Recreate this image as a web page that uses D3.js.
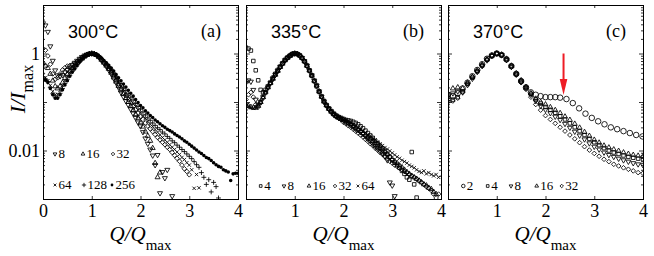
<!DOCTYPE html>
<html>
<head>
<meta charset="utf-8">
<script src="https://cdn.jsdelivr.net/npm/d3@7"></script>
<style>
  body { margin: 0; background: #fff; }
</style>
</head>
<body>
<div id="chart"></div>
<script>
// ****************************************************
// data (I/Imax against Q/Qmax)
var qFine = [0,0.05,0.1,0.15,0.2,0.25,0.3,0.35,0.4,0.45,0.5,0.55,0.6,0.65,0.7,0.75,0.8,0.85,0.9,0.95,
  1,1.05,1.1,1.15,1.2,1.25,1.3,1.35,1.4,1.45,1.5,1.55,1.6,1.65,1.7,1.75,1.8,1.85,1.9,1.95,
  2,2.05,2.1,2.15,2.2,2.25,2.3,2.35,2.4,2.45,2.5,2.55,2.6,2.65,2.7,2.75,2.8,2.85,2.9,2.95,
  3,3.05,3.1,3.15,3.2,3.25,3.3,3.35,3.4,3.45,3.5,3.55,3.6,3.65,3.7,3.75,3.8,3.85,3.9,3.95,4];
var qCoarse = [0,0.1,0.2,0.3,0.4,0.5,0.6,0.7,0.8,0.9,1,1.1,1.2,1.3,1.4,1.5,1.6,1.7,1.8,1.9,
  2,2.1,2.2,2.3,2.4,2.5,2.6,2.7,2.8,2.9,3,3.1,3.2,3.3,3.4,3.5,3.6,3.7,3.8,3.9,4];
var qCirc = [0,0.1,0.2,0.3,0.4,0.5,0.6,0.7,0.8,0.9,1,1.1,1.2,1.3,1.4,1.5,1.6,1.7,1.8,1.9,
  2,2.1,2.2,2.3,2.43,2.56,2.69,2.82,2.95,3.08,3.21,3.34,3.47,3.6,3.73,3.86,3.99];

// 300 C
var a8 = [4.2,3.8,2.8,1.41,0.71,0.45,0.355,0.34,0.36,0.41,0.46,0.51,0.575,0.645,0.71,0.78,0.85,0.91,0.955,0.99,
  1,0.98,0.92,0.83,0.72,0.63,0.54,0.457,0.38,0.31,0.25,0.2,0.158,0.129,0.105,0.087,0.071,0.058,0.047,0.038,
  0.0316,0.024,0.0178,0.0138,0.0105,0.0079,0.005,0.0081,0.00132,0.0036,0.0027,0.004,null,0.00115];
var a16 = [0.63,0.56,0.5,0.38,0.275,0.21,0.19,0.21,0.25,0.31,0.37,0.44,0.5,0.575,0.645,0.72,0.79,0.87,0.93,0.98,
  1,0.98,0.93,0.84,0.74,0.645,0.56,0.48,0.4,0.32,0.263,0.214,0.174,0.145,0.12,0.1,0.083,0.068,0.056,0.047,
  0.038,0.031,0.0245,0.02,0.0158,0.0112,0.0055,0.0028,0.0035];
var a32 = [1.26,1.17,0.89,0.6,0.38,0.295,0.316,0.38,0.457,0.51,0.55,0.56,0.59,0.63,0.69,0.76,0.83,0.89,0.955,0.99,
  1,0.98,0.93,0.85,0.76,0.66,0.575,0.49,0.417,0.347,0.282,0.234,0.19,0.158,0.135,0.112,0.095,0.081,0.069,0.059,
  0.05,0.0437,0.037,0.032,0.028,0.0245,0.0214,0.0186,0.0166,0.0148,0.0132,0.0117,0.0105,0.0091,0.0079,0.0069,0.006,0.005,0.0042,0.0037,
  0.00316];
var a64 = [0.355,0.316,0.275,0.22,0.166,0.141,0.145,0.174,0.22,0.275,0.34,0.4,0.47,0.54,0.62,0.69,0.78,0.85,0.92,0.98,
  1,0.98,0.93,0.86,0.78,0.68,0.59,0.51,0.447,0.37,0.31,0.257,0.214,0.182,0.151,0.129,0.11,0.093,0.081,0.069,
  0.06,0.052,0.046,0.04,0.035,0.031,0.027,0.024,0.021,0.0186,0.0166,0.0148,0.0132,0.0117,0.0105,0.0093,0.0083,0.0072,0.0065,0.0056,
  0.005,0.004,0.00166,0.0032,0.0017];
var a128 = [0.316,0.3,0.263,0.2,0.148,0.126,0.126,0.151,0.19,0.24,0.295,0.355,0.427,0.5,0.59,0.68,0.76,0.85,0.91,0.98,
  1,0.98,0.93,0.87,0.79,0.69,0.62,0.54,0.47,0.4,0.34,0.282,0.24,0.204,0.174,0.148,0.126,0.11,0.093,0.081,
  0.071,0.062,0.054,0.047,0.042,0.037,0.033,0.0295,0.027,0.024,0.022,0.0195,0.0178,0.0158,0.0145,0.0129,0.0117,0.0105,0.0095,0.0085,
  0.0076,0.0068,0.0059,0.0051,0.0045,0.0035,0.0028,0.002,0.0025,0.0014,0.0022,0.0018,0.00105];
var a256 = [0.282,0.282,0.251,0.19,0.141,0.12,0.12,0.141,0.178,0.224,0.275,0.34,0.41,0.48,0.56,0.66,0.76,0.85,0.91,0.98,
  1,0.98,0.94,0.88,0.81,0.72,0.645,0.57,0.5,0.437,0.37,0.316,0.275,0.234,0.204,0.174,0.151,0.132,0.112,0.098,
  0.085,0.076,0.066,0.059,0.0525,0.048,0.0427,0.039,0.0355,0.0324,0.03,0.0275,0.0257,0.024,0.022,0.0204,0.019,0.0174,0.0158,0.0148,
  0.0135,0.0123,0.0112,0.0102,0.0093,0.0087,0.0079,0.0072,0.0068,0.0062,0.0056,0.0051,0.0047,0.0045,0.004,0.0038,0.0036,0.0024,0.0033,0.0034,
  0.0034];

// 335 C
var b4 = [1.32,1.26,1.15,0.7,0.45,0.28,0.178,0.158,0.178,0.21,0.25,0.316,0.38,0.457,0.537,0.63,0.74,0.83,0.91,0.98,
  1,0.98,0.91,0.81,0.69,0.56,0.447,0.347,0.27,0.21,0.162,0.129,0.105,0.087,0.074,0.065,0.0575,0.0525,0.049,0.047,
  0.0447,0.0427,0.0417,0.0407,0.039,0.037,0.0347,0.0316,0.0288,0.0257,0.0229,0.0204,0.0182,0.0158,0.0141,0.0126,0.011,0.0098,0.0085,0.0074,
  0.0063,0.0056,0.005,0.0044,0.0038,0.0033,0.0028,0.0025,0.0093,0.002,0.00107];
var b8 = [0.25,0.28,0.263,0.178,0.112,0.089,0.1,0.126,0.158,0.2,0.245,0.3,0.363,0.437,0.525,0.617,0.724,0.81,0.89,0.966,
  1,0.98,0.91,0.81,0.69,0.56,0.447,0.355,0.275,0.219,0.166,0.129,0.102,0.085,0.072,0.063,0.056,0.051,0.048,0.0447,
  0.0417,0.039,0.0363,0.0339,0.0309,0.0282,0.0263,0.024,0.0219,0.0195,0.0174,0.0155,0.0138,0.0123,0.011,0.0098,0.0087,0.0076,0.0063,0.0022,
  0.0019,0.00115];
var b16 = [0.089,0.083,0.079,0.076,0.076,0.083,0.1,0.126,0.158,0.2,0.245,0.3,0.363,0.437,0.525,0.617,0.724,0.81,0.89,0.966,
  1,0.98,0.91,0.81,0.69,0.56,0.447,0.355,0.275,0.219,0.166,0.129,0.102,0.085,0.072,0.063,0.056,0.051,0.048,0.0447,
  0.0427,0.04,0.037,0.0347,0.0316,0.0295,0.0269,0.0251,0.0229,0.0209,0.019,0.0174,0.0158,0.0141,0.0129,0.0115,0.0105,0.0093,0.0083,0.0074,
  0.0066,0.006,0.0055,0.0049,0.0045,0.004,0.0036,0.0033,0.003,0.0028,0.0026,0.0024,0.0022,0.002,0.0019,0.0017,0.0016,0.0014,0.00126];
var b32 = [0.112,0.141,0.158,0.126,0.089,0.079,0.095,0.12,0.155,0.195,0.24,0.295,0.355,0.427,0.513,0.617,0.708,0.81,0.89,0.966,
  1,0.98,0.9,0.8,0.68,0.55,0.437,0.347,0.27,0.214,0.162,0.126,0.1,0.083,0.07,0.061,0.054,0.049,0.046,0.043,
  0.038,0.0355,0.0324,0.0302,0.0275,0.0251,0.0229,0.0209,0.019,0.017,0.0155,0.0138,0.0126,0.0112,0.0102,0.0091,0.0083,0.0074,0.0068,0.006,
  0.0055,0.005,0.0047,0.0043,0.004,0.0037,0.0035,0.0032,0.003,0.0028,0.0026,0.0024,0.0022,0.002,0.0018,0.00166,0.0015,0.00126,0.00105,0.00126];
var b64 = [0.085,0.08,0.076,0.074,0.076,0.087,0.105,0.132,0.166,0.209,0.257,0.31,0.372,0.447,0.537,0.631,0.73,0.82,0.9,0.97,
  1,0.98,0.92,0.82,0.7,0.575,0.46,0.363,0.282,0.224,0.17,0.132,0.105,0.087,0.074,0.065,0.058,0.053,0.049,0.046,
  0.0437,0.041,0.039,0.0363,0.0339,0.0316,0.0295,0.0269,0.0251,0.0234,0.0214,0.02,0.0182,0.0166,0.0151,0.0138,0.0126,0.0115,0.0107,0.0098,
  0.0089,0.0081,0.0074,0.0069,0.0063,0.0059,0.0055,0.005,0.0047,0.0044,0.004,0.0037,0.0035,0.0038,0.0033,0.0035,0.0032,0.003,0.0032,0.0028];

// 370 C
var c2 = [0.141,0.132,0.151,0.19,0.25,0.34,0.457,0.6,0.78,0.91,1,0.93,0.76,0.55,0.38,0.27,0.2,0.158,0.141,0.132,
  0.126,0.126,0.126,0.123,0.115,0.095,0.074,0.0575,0.047,0.04,0.0347,0.03,0.0275,0.0251,0.0229,0.0209,0.0195];
var c4 = [0.141,0.112,0.126,0.166,0.234,0.316,0.427,0.562,0.741,0.891,1,0.933,0.759,0.55,0.38,0.269,0.2,0.148,0.112,0.093,
  0.079,0.069,0.06,0.051,0.0437,0.0363,0.0302,0.0251,0.0209,0.0174,0.0148,0.0129,0.0112,0.01,0.0091,0.0085,0.0079,0.0074,0.0071,0.0068,0.0066];
var c8 = [0.1,0.151,0.166,0.158,0.224,0.302,0.417,0.55,0.724,0.891,1,0.93,0.74,0.537,0.372,0.263,0.195,0.141,0.105,0.083,
  0.069,0.059,0.05,0.0427,0.0355,0.0295,0.0245,0.0204,0.017,0.0141,0.012,0.0105,0.0091,0.0081,0.0074,0.0068,0.0063,0.0059,0.0055,0.0052,0.005];
var c16 = [0.126,0.19,0.2,0.19,0.251,0.331,0.447,0.589,0.759,0.912,1,0.95,0.78,0.56,0.39,0.28,0.204,0.151,0.117,0.1,
  0.089,0.078,0.068,0.059,0.05,0.0427,0.0355,0.0295,0.024,0.02,0.0166,0.0145,0.0126,0.0115,0.0105,0.0098,0.0091,0.0085,0.0081,0.0078,0.0076];
var c32 = [0.112,0.105,0.12,0.158,0.24,0.331,0.437,0.575,0.759,0.912,1,0.92,0.72,0.52,0.36,0.25,0.182,0.126,0.089,0.068,
  0.0525,0.0437,0.0363,0.0302,0.0251,0.0209,0.0174,0.0145,0.012,0.0102,0.0087,0.0076,0.0066,0.0059,0.0052,0.0048,0.0044,0.0041,0.0038,0.0035,0.0034];

var xTicks = [0, 1, 2, 3, 4];
var yMajor = [0.001, 0.01, 0.1, 1, 10];
var yLabels = [1, 0.01];
var arrowQ = 2.37, arrowFrom = 1, arrowTo = 0.14;

// ****************************************************
// layout
var svgWidth = 654, svgHeight = 256;
var plotW = 195, plotTop = 5, plotBottom = 199;
var serif = '"Liberation Serif", "Times New Roman", serif';
var sans = '"Liberation Sans", Arial, sans-serif';

var panels = [
  { left: 43, temp: "300°C", tag: "(a)", xLabels: [0, 1, 2, 3, 4], yAxisLabels: true,
    series: [
      { name: "8", shape: "down", q: qFine, v: a8, lx: 12, ly: 158 },
      { name: "16", shape: "up", q: qFine, v: a16, lx: 40, ly: 158 },
      { name: "32", shape: "diamond", q: qFine, v: a32, lx: 70, ly: 158 },
      { name: "64", shape: "times", q: qFine, v: a64, lx: 12, ly: 189 },
      { name: "128", shape: "plus", q: qFine, v: a128, lx: 41, ly: 189 },
      { name: "256", shape: "dot", q: qFine, v: a256, lx: 69, ly: 189 }
    ] },
  { left: 246, temp: "335°C", tag: "(b)", xLabels: [1, 2, 3, 4], yAxisLabels: false,
    series: [
      { name: "4", shape: "square", q: qFine, v: b4, lx: 14.7, ly: 190 },
      { name: "8", shape: "down", q: qFine, v: b8, lx: 38, ly: 190 },
      { name: "16", shape: "up", q: qFine, v: b16, lx: 63, ly: 190 },
      { name: "32", shape: "diamond", q: qFine, v: b32, lx: 89, ly: 190 },
      { name: "64", shape: "times", q: qFine, v: b64, lx: 112, ly: 190 }
    ] },
  { left: 448, temp: "370°C", tag: "(c)", xLabels: [1, 2, 3, 4], yAxisLabels: false, arrow: true,
    series: [
      { name: "2", shape: "circle", q: qCirc, v: c2, lx: 15.3, ly: 190 },
      { name: "4", shape: "square", q: qCoarse, v: c4, lx: 39.7, ly: 190 },
      { name: "8", shape: "down", q: qCoarse, v: c8, lx: 63, ly: 190 },
      { name: "16", shape: "up", q: qCoarse, v: c16, lx: 88.7, ly: 190 },
      { name: "32", shape: "diamond", q: qCoarse, v: c32, lx: 113.7, ly: 190 }
    ] }
];

// marker looks
var shapeStyle = {
  down:    { type: d3.symbolTriangle2, size: 18, legend: 10, rot: 180 },
  up:      { type: d3.symbolTriangle2, size: 18, legend: 10, rot: 0 },
  diamond: { type: d3.symbolDiamond2, size: 14, legend: 8, rot: 0 },
  times:   { type: d3.symbolTimes, size: 9, legend: 6, rot: 0 },
  plus:    { type: d3.symbolPlus, size: 9, legend: 7, rot: 0 },
  dot:     { type: d3.symbolCircle, size: 10, legend: 6, rot: 0, fill: true },
  square:  { type: d3.symbolSquare2, size: 16, legend: 9, rot: 0 },
  circle:  { type: d3.symbolCircle, size: 24, legend: 10, rot: 0 }
};

var svg = d3.select("#chart")
  .append("svg")
  .attr("width", svgWidth)
  .attr("height", svgHeight);

var yScale = d3.scaleLog().domain([0.001, 10]).range([plotBottom, plotTop]);

// minor log ticks 2..9 for every decade
var yMinor = [];
yMajor.slice(0, -1).forEach(function(m) {
  [2, 3, 4, 5, 6, 7, 8, 9].forEach(function(k) { yMinor.push(m * k); });
});

function drawMarker(sel, shape, size) {
  var st = shapeStyle[shape];
  sel.attr("d", d3.symbol().type(st.type).size(size)())
    .attr("fill", st.fill ? "#000" : "none")
    .attr("stroke", "#000")
    .attr("stroke-width", st.fill ? 0 : 0.85);
}

panels.forEach(function(p, i) {
  var xScale = d3.scaleLinear().domain([0, 4]).range([p.left, p.left + plotW]);
  var g = svg.append("g").attr("class", "panel");

  // clip for the markers
  g.append("clipPath").attr("id", "clip" + i)
    .append("rect")
    .attr("x", p.left).attr("y", plotTop)
    .attr("width", plotW).attr("height", plotBottom - plotTop);

  var marks = g.append("g").attr("clip-path", "url(#clip" + i + ")");
  p.series.forEach(function(s) {
    var pts = d3.zip(s.q, s.v).filter(function(d) { return d[1] != null; });
    var st = shapeStyle[s.shape];
    marks.selectAll(null)
      .data(pts)
      .enter()
      .append("path")
      .call(drawMarker, s.shape, st.size)
      .attr("transform", function(d) {
        return "translate(" + xScale(d[0]) + "," + yScale(d[1]) + ")" + (st.rot ? " rotate(" + st.rot + ")" : "");
      });
  });

  // frame
  g.append("rect")
    .attr("x", p.left).attr("y", plotTop)
    .attr("width", plotW).attr("height", plotBottom - plotTop)
    .attr("fill", "none").attr("stroke", "#000").attr("stroke-width", 1)
    .attr("shape-rendering", "crispEdges");

  // x axis bottom with labels, top mirror
  g.append("g")
    .attr("transform", "translate(0," + plotBottom + ")")
    .call(d3.axisBottom(xScale).tickValues(xTicks).tickSize(-3).tickPadding(5.5)
      .tickFormat(function(d) { return p.xLabels.indexOf(d) >= 0 ? d : ""; }));
  g.append("g")
    .attr("transform", "translate(0," + plotTop + ")")
    .call(d3.axisTop(xScale).tickValues(xTicks).tickSize(-3).tickFormat(""));

  // y axes both sides, major + minor
  g.append("g")
    .attr("transform", "translate(" + p.left + ",0)")
    .call(d3.axisLeft(yScale).tickValues(yMajor).tickSize(-4).tickPadding(3)
      .tickFormat(function(d) { return p.yAxisLabels && yLabels.indexOf(d) >= 0 ? d : ""; }));
  g.append("g")
    .attr("transform", "translate(" + p.left + ",0)")
    .call(d3.axisLeft(yScale).tickValues(yMinor).tickSize(-2).tickFormat(""));
  g.append("g")
    .attr("transform", "translate(" + (p.left + plotW) + ",0)")
    .call(d3.axisRight(yScale).tickValues(yMajor).tickSize(-4).tickFormat(""));
  g.append("g")
    .attr("transform", "translate(" + (p.left + plotW) + ",0)")
    .call(d3.axisRight(yScale).tickValues(yMinor).tickSize(-2).tickFormat(""));

  g.selectAll(".domain").remove();
  g.selectAll(".tick line").attr("stroke", "#000").attr("stroke-width", 0.8);
  g.selectAll(".tick text")
    .style("font-family", serif)
    .style("font-size", "18px")
    .style("fill", "#000");

  // panel titles
  g.append("text")
    .attr("x", p.left + 25).attr("y", 38)
    .style("font-family", sans)
    .style("font-size", "18px")
    .text(p.temp);
  g.append("text")
    .attr("x", p.left + plotW - 17).attr("y", 37)
    .attr("text-anchor", "end")
    .style("font-family", serif)
    .style("font-size", "18px")
    .text(p.tag);

  // legend
  p.series.forEach(function(s) {
    var st = shapeStyle[s.shape];
    g.append("path")
      .call(drawMarker, s.shape, st.legend)
      .attr("transform", "translate(" + (p.left + s.lx) + "," + (s.ly - 4) + ")" + (st.rot ? " rotate(" + st.rot + ")" : ""));
    g.append("text")
      .attr("x", p.left + s.lx + 3.5).attr("y", s.ly)
      .style("font-family", serif)
      .style("font-size", "13px")
      .text(s.name);
  });

  // x label
  var xl = g.append("text")
    .attr("x", p.left + plotW / 2).attr("y", 240.5)
    .attr("text-anchor", "middle")
    .style("font-family", serif)
    .style("font-size", "21px");
  xl.append("tspan").style("font-style", "italic").text("Q/Q");
  xl.append("tspan").style("font-size", "15px").attr("dy", 9).text("max");

  // red arrow
  if (p.arrow) {
    var ax = xScale(arrowQ);
    var y0 = yScale(arrowFrom), y1 = yScale(arrowTo);
    g.append("line")
      .attr("x1", ax).attr("x2", ax)
      .attr("y1", y0).attr("y2", y1 - 12)
      .attr("stroke", "#ee1c25").attr("stroke-width", 2);
    g.append("path")
      .attr("d", "M" + (ax - 3.8) + "," + (y1 - 16) + "L" + (ax + 3.8) + "," + (y1 - 16) + "L" + ax + "," + y1 + "Z")
      .attr("fill", "#ee1c25");
  }
});

// y label
var ylab = svg.append("text")
  .attr("transform", "translate(25,89) rotate(-90)")
  .attr("text-anchor", "middle")
  .style("font-family", serif)
  .style("font-size", "22px");
ylab.append("tspan").style("font-style", "italic").text("I/I");
ylab.append("tspan").style("font-size", "16px").attr("dy", 8).text("max");
</script>
</body>
</html>
